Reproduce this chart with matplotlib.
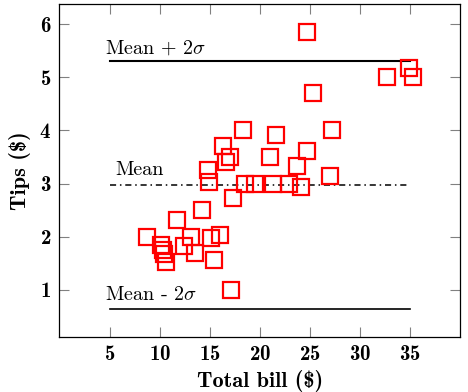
import matplotlib.pyplot as plt
import numpy as np

plt.rcParams["mathtext.fontset"] = "cm"
plt.rcParams["axes.formatter.use_mathtext"] = True

total_bill = [24.7, 34.9, 32.7, 35.3, 25.3, 18.3, 21.6, 27.2, 16.3, 17.0,
              16.6, 21.0, 24.7, 23.7, 14.8, 14.9, 27.0, 18.5, 19.5, 21.3,
              22.9, 24.1, 17.3, 14.2, 11.7, 8.7, 13.1, 16.0, 15.1, 12.4,
              10.1, 10.3, 10.4, 10.6, 13.5, 15.4, 17.1]
tips = [5.85, 5.17, 5.0, 5.0, 4.71, 4.0, 3.92, 4.0, 3.71, 3.5,
        3.41, 3.5, 3.62, 3.33, 3.25, 3.02, 3.14, 3.0, 3.0, 3.0,
        3.0, 2.93, 2.72, 2.5, 2.32, 2.0, 2.0, 2.04, 1.97, 1.82,
        1.85, 1.75, 1.68, 1.52, 1.7, 1.57, 1.0]

line_x = [5, 35]
mean_tip = 2.97
upper = 5.31
lower = 0.63
x_ticks = [5, 10, 15, 20, 25, 30, 35]
y_ticks = [1, 2, 3, 4, 5, 6]

fig = plt.figure(figsize=(4.68, 3.92), dpi=100)
ax = fig.add_axes([0.127, 0.140, 0.856, 0.850])

ax.plot(line_x, [upper, upper], color="black", lw=1.5)
ax.plot(line_x, [mean_tip, mean_tip], color="black", lw=1.1,
        linestyle=(0, (4, 2.5, 1, 2.5)))
ax.plot(line_x, [lower, lower], color="black", lw=1.2)

ax.plot(total_bill, tips, "s", markersize=12, mfc="none", mec="red", mew=1.6)

ax.text(4.57, 5.45, r"Mean $+$ $2\sigma$", fontfamily="cmr10", fontsize=14.5,
        va="baseline")
ax.text(5.58, 3.17, "Mean", fontfamily="cmr10", fontsize=14.5, va="baseline")
ax.text(4.57, 0.81, r"Mean - $2\sigma$", fontfamily="cmr10", fontsize=14.5,
        va="baseline")

ax.set_xlim(0, 40)
ax.set_ylim(0.11, 6.38)
ax.set_xticks(x_ticks)
ax.set_yticks(y_ticks)
ax.tick_params(direction="in", length=7, width=0.8, color="gray",
               top=True, right=True, labelsize=15, pad=6)
for lbl in ax.get_xticklabels() + ax.get_yticklabels():
    lbl.set_fontfamily("cmb10")
for sp in ax.spines.values():
    sp.set_linewidth(0.9)

ax.set_xlabel(r"Total bill (\$)", fontfamily="cmb10", fontsize=16, labelpad=4)
ax.set_ylabel(r"Tips (\$)", fontfamily="cmb10", fontsize=16, labelpad=6)

fig.savefig("out.png", dpi=100)
